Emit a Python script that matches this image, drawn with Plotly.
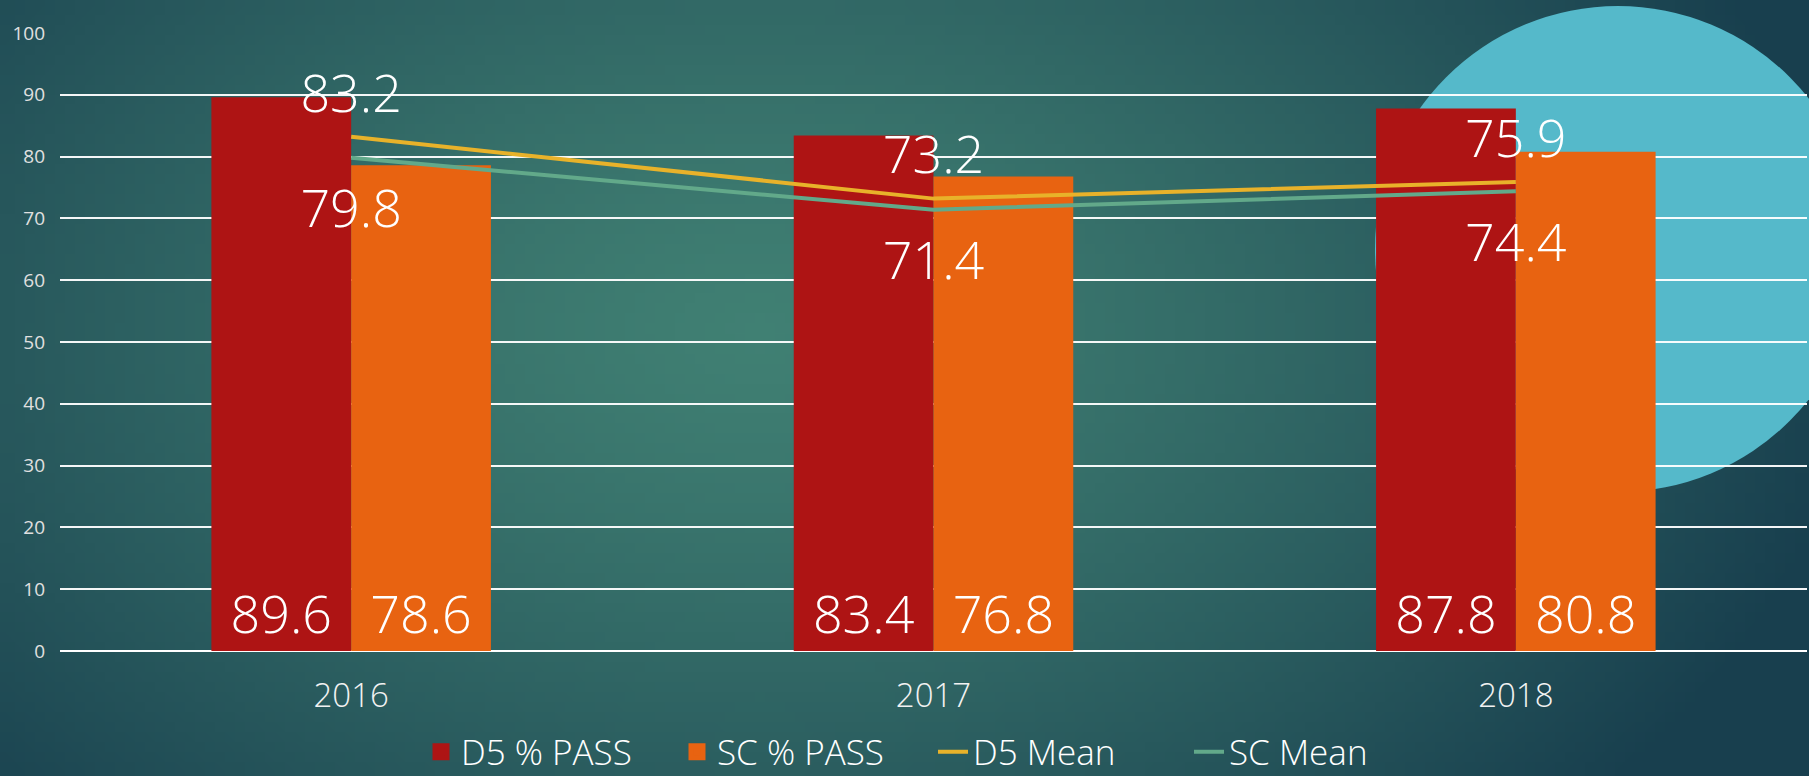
import base64, struct, zlib, math
import plotly.graph_objects as go

# ---------------- data ----------------
years = ["2016", "2017", "2018"]
d5_pass = [89.6, 83.4, 87.8]
sc_pass = [78.6, 76.8, 80.8]
d5_mean = [83.2, 73.2, 75.9]
sc_mean = [79.8, 71.4, 74.4]
y_ticks = [0, 10, 20, 30, 40, 50, 60, 70, 80, 90, 100]

# ---------------- layout geometry ----------------
W, H = 1809, 776
ML, MR, MT, MB = 60, 2, 33, 125
PW, PH = W - ML - MR, H - MT - MB

FONT = "'Open Sans', Lato, sans-serif"
RED, ORANGE, GOLD, GREEN = "#ae1414", "#e86311", "#e8b22a", "#62a98a"


# ---------------- background gradient (PNG built in pure python) ----------------
def make_bg_png(w, h):
    c0 = (64, 128, 115)   # center
    c1 = (24, 63, 78)     # edge
    cx, cy = 760 / W, 330 / H
    rows = []
    for j in range(h):
        row = bytearray([0])
        for i in range(w):
            x = (i + 0.5) / w
            y = (j + 0.5) / h
            d = math.sqrt(((x - cx) * W / 1100) ** 2 + ((y - cy) * H / 720) ** 2)
            t = min(1.0, d) ** 1.3
            row += bytes(int(round(c0[k] * (1 - t) + c1[k] * t)) for k in range(3))
        rows.append(bytes(row))
    raw = b"".join(rows)

    def chunk(tag, data):
        c = struct.pack(">I", len(data)) + tag + data
        return c + struct.pack(">I", zlib.crc32(tag + data) & 0xFFFFFFFF)

    png = b"\x89PNG\r\n\x1a\n"
    png += chunk(b"IHDR", struct.pack(">IIBBBBB", w, h, 8, 2, 0, 0, 0))
    png += chunk(b"IDAT", zlib.compress(raw, 9))
    png += chunk(b"IEND", b"")
    return "data:image/png;base64," + base64.b64encode(png).decode()


bg = make_bg_png(181, 78)
label_font = dict(color="white", size=52, family=FONT, weight=300)

fig = go.Figure()

# legend-only bar entries (bigger swatches via thick outline)
fig.add_trace(go.Bar(name="D5 % PASS", x=years[:1], y=[None], offsetgroup="d5",
                     marker=dict(color=RED, line=dict(color=RED, width=14)),
                     hoverinfo="skip"))
fig.add_trace(go.Bar(name="SC % PASS", x=years[:1], y=[None], offsetgroup="sc",
                     marker=dict(color=ORANGE, line=dict(color=ORANGE, width=14)),
                     hoverinfo="skip"))

fig.add_trace(go.Bar(
    name="D5 % PASS", x=years, y=d5_pass, offsetgroup="d5", showlegend=False,
    marker=dict(color=RED, line=dict(width=0)),
    text=[f"{v:.1f}" for v in d5_pass], textposition="inside",
    insidetextanchor="start", textangle=0, constraintext="none",
    textfont=label_font,
))
fig.add_trace(go.Bar(
    name="SC % PASS", x=years, y=sc_pass, offsetgroup="sc", showlegend=False,
    marker=dict(color=ORANGE, line=dict(width=0)),
    text=[f"{v:.1f}" for v in sc_pass], textposition="inside",
    insidetextanchor="start", textangle=0, constraintext="none",
    textfont=label_font,
))
fig.add_trace(go.Scatter(name="D5 Mean", x=years, y=d5_mean, mode="lines",
                         line=dict(color=GOLD, width=4)))
fig.add_trace(go.Scatter(name="SC Mean", x=years, y=sc_mean, mode="lines",
                         line=dict(color=GREEN, width=4)))
# value labels for the mean lines
fig.add_trace(go.Scatter(
    name="D5 Mean", x=years, y=d5_mean, mode="markers+text", showlegend=False,
    marker=dict(size=18, opacity=0), hoverinfo="skip",
    text=[f"{v:.1f}" for v in d5_mean], textposition="top center",
    textfont=label_font, cliponaxis=False,
))
fig.add_trace(go.Scatter(
    name="SC Mean", x=years, y=sc_mean, mode="markers+text", showlegend=False,
    marker=dict(size=47, opacity=0), hoverinfo="skip",
    text=[f"{v:.1f}" for v in sc_mean], textposition="bottom center",
    textfont=label_font, cliponaxis=False,
))

fig.update_layout(
    width=W, height=H,
    margin=dict(l=ML, r=MR, t=MT, b=MB, autoexpand=False),
    paper_bgcolor="#1d4a55", plot_bgcolor="rgba(0,0,0,0)",
    barmode="group", bargap=0.52, bargroupgap=0,
    showlegend=True,
    legend=dict(orientation="h", x=(431 - ML - 10) / PW, xanchor="left",
                y=-(752 - (MT + PH)) / PH, yanchor="middle",
                font=dict(color="white", size=35, family=FONT, weight=300),
                bgcolor="rgba(0,0,0,0)", itemwidth=30, entrywidth=211,
                traceorder="normal"),
    font=dict(family=FONT, color="white"),
    images=[dict(source=bg, xref="paper", yref="paper",
                 x=-ML / PW, y=1 + MT / PH, sizex=W / PW, sizey=H / PH,
                 xanchor="left", yanchor="top", sizing="stretch",
                 layer="below")],
    shapes=[dict(type="circle", xref="paper", yref="paper",
                 x0=(1375 - ML) / PW, x1=(1861 - ML) / PW,
                 y0=(MT + PH - 492) / PH, y1=(MT + PH - 6) / PH,
                 fillcolor="#55b9ca", line=dict(width=0), layer="below")],
)

fig.update_xaxes(
    type="category", showgrid=False, zeroline=False, showline=False,
    ticks="", tickfont=dict(size=33, color="#f2f2f2", family=FONT, weight=300),
    ticklabelstandoff=22, automargin=False,
)
fig.update_yaxes(
    range=[0, 100], tickvals=y_ticks, showgrid=True,
    gridcolor="rgba(255,255,255,0.95)", gridwidth=1.6,
    zeroline=True, zerolinecolor="white", zerolinewidth=2.4,
    showline=False, ticks="",
    tickfont=dict(size=19, color="#e0e0e0", family=FONT),
    ticklabelstandoff=14, automargin=False,
)

fig.write_html(
    "out.html",
    config={"displayModeBar": False},
    post_script="document.body.style.margin='0';document.body.style.overflow='hidden';",
)
